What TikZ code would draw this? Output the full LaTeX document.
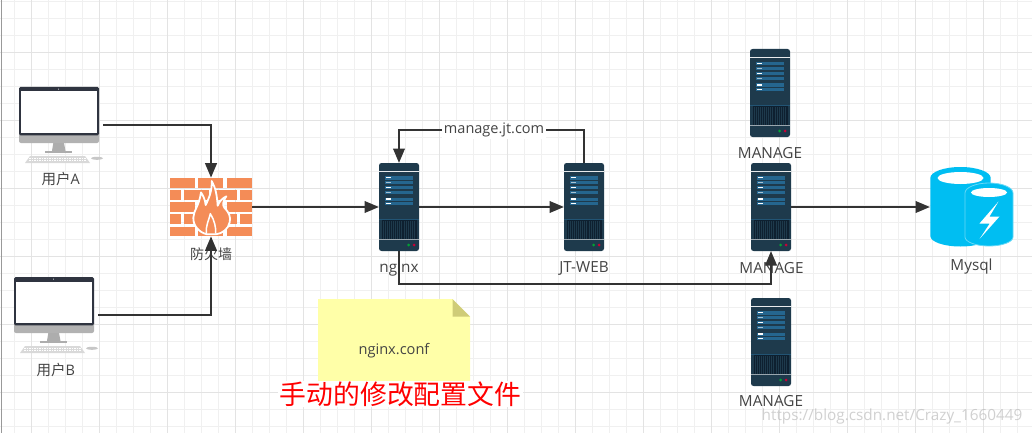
\documentclass[tikz,border=0pt]{standalone}
\usepackage{fontspec}
\setmainfont{Open Sans}
\newfontfamily\cjk{Noto Sans CJK SC}
\usetikzlibrary{arrows.meta,calc}
\definecolor{srv}{HTML}{1E3A4C}
\definecolor{srvbar}{HTML}{25668F}
\definecolor{srvdark}{HTML}{0E2030}
\definecolor{ink}{HTML}{333333}
\definecolor{txt}{HTML}{444444}
\definecolor{gridmin}{HTML}{F0F0F0}
\definecolor{gridmaj}{HTML}{E3E3E3}
\definecolor{brick}{HTML}{F48C57}
\definecolor{dbblue}{HTML}{00BEF2}
\definecolor{dbedge}{HTML}{66D8F6}
\definecolor{notey}{HTML}{FFFFA8}
\definecolor{notef}{HTML}{CFCC78}
\definecolor{frame}{HTML}{2F3440}
\tikzset{
  x=1pt,y=-1pt,
  conn/.style={draw=ink,line width=2.3pt,-{Triangle[length=14.5pt,width=11.5pt]}},
  iconbox/.style={inner sep=0pt,outer sep=0pt,draw=none},
  lbl/.style={inner sep=0pt,text=txt,font=\fontsize{15.3}{17}\selectfont},
  serverico/.pic={
    \fill[srv,rounded corners=2.5pt] (0,0) rectangle (40,88);
    \fill[white!90!srv] (0,7.6) rectangle (40,8.6);
    \foreach \a/\b in {13/16.5,18/21,23/26.3,28/31,34.5/38,39/42}{
      \fill[srvbar] (6,\a) rectangle (34,\b);}
    \foreach \a/\c in {14.7/white,19.4/white!60!srvbar,24.6/white,29.4/white!60!srvbar,36/white,40.5/white}{
      \fill[\c] (6.7,\a-.6) rectangle (12,\a+.6);}
    \fill[srvbar!60!srv] (0,55.6) rectangle (40,56.4);
    \fill[srvdark] (2.5,57) rectangle (37.5,76);
    \foreach \k in {3.5,5.6,...,37}{\fill[srv] (\k,58) rectangle (\k+.6,75.5);}
    \fill[white!55!srv] (0,75.8) rectangle (40,77.4);
    \fill[green!55!black!80!cyan] (29.6,82) circle (1.5);
    \fill[purple!85!red] (35,82) circle (1.5);
  },
  monitorico/.pic={
    \fill[black!15] (6,76) -- (11,69) -- (66,69) -- (71,76) -- cycle;
    \foreach \a in {71,73.5}{\draw[white,line width=.5pt,dash pattern=on 1.5pt off 1pt] (10,\a) -- (67,\a);}
    \fill[black!22] (78,71.3) ellipse (6 and 1.5);
    \fill[black!32] (34.3,56) -- (45,56) -- (46.5,64) -- (33,64) -- cycle;
    \fill[black!32] (26,64) rectangle (53,66);
    \fill[black!30,rounded corners=2pt] (0,44) rectangle (80,56);
    \fill[black!30] (0,44) rectangle (80,50);
    \fill[frame,rounded corners=1.5pt] (0,0) rectangle (80,48.4);
    \fill[white] (2.4,4.5) rectangle (77.6,46);
    \fill[white] (39.5,2.2) circle (.5);
  }
}
\begin{document}
\begin{tikzpicture}
\useasboundingbox (0,0) rectangle (1032,433);
\fill[white] (0,0) rectangle (1032,433);
% grid
\foreach \k in {0,...,60}{\draw[gridmin,line width=1pt] ({14.7+17*\k},0) -- ({14.7+17*\k},433);}
\foreach \k in {0,...,25}{\draw[gridmin,line width=1pt] (0,{1.3+17*\k}) -- (1032,{1.3+17*\k});}
\foreach \k in {0,...,14}{\draw[gridmaj,line width=1pt] ({31.7+68*\k},0) -- ({31.7+68*\k},433);}
\foreach \k in {0,...,6}{\draw[gridmaj,line width=1pt] (0,{52.3+68*\k}) -- (1032,{52.3+68*\k});}
\draw[black!40,line width=1.2pt] (1.2,0) -- (1.2,433);

% note
\fill[notey] (318,299) -- (452.5,299) -- (470,316.7) -- (470,398) -- (318,398) -- cycle;
\fill[notef] (452.5,299) -- (470,316.7) -- (452.5,316.7) -- cycle;
\node[lbl,font=\fontsize{14.6}{16}\selectfont] (noteText) at (394,350.5) {nginx.conf};
\node[fill=white,inner sep=0pt,minimum width=245pt,minimum height=26pt,text=red,font=\cjk\fontsize{26.8}{28}\selectfont] (redText) at (400.5,394) {手动的修改配置文件};

% monitors
\pic at (19,87) {monitorico};
\pic at (14,277) {monitorico};
\node[iconbox,minimum width=84pt,minimum height=76pt] (ua) at (61,125) {};
\node[iconbox,minimum width=84pt,minimum height=76pt] (ub) at (56,315) {};
\node[lbl,font=\fontsize{14.5}{16}\selectfont] (ula) at (60.8,179) {{\cjk 用户}A};
\node[lbl,font=\fontsize{14.5}{16}\selectfont] (ulb) at (55.8,370) {{\cjk 用户}B};

% firewall
\node[iconbox,minimum width=82pt,minimum height=58.6pt] (fw) at (211,207) {};
\foreach \a in {177.7,202.3,226.6}{
  \fill[brick] (170,\a) rectangle (195,\a+9.8);
  \fill[brick] (198.3,\a) rectangle (223.3,\a+9.8);
  \fill[brick] (226.7,\a) rectangle (252,\a+9.8);}
\foreach \a in {190.2,214.4}{
  \fill[brick] (170,\a) rectangle (181,\a+9.8);
  \fill[brick] (184,\a) rectangle (209,\a+9.8);
  \fill[brick] (212,\a) rectangle (237,\a+9.8);
  \fill[brick] (240,\a) rectangle (252,\a+9.8);}
\begin{scope}[shift={(185,175)},scale=1/3]
\filldraw[draw=white,fill=brick,line width=1.8pt,line join=round]
  (80,18) .. controls (92,38) and (96,62) .. (98,92)
  .. controls (104,78) and (112,70) .. (124,64)
  .. controls (114,78) and (112,90) .. (118,98)
  .. controls (132,112) and (138,126) .. (134,142)
  .. controls (130,162) and (112,176) .. (92,178)
  -- (66,178)
  .. controls (42,172) and (24,152) .. (25,128)
  .. controls (26,105) and (42,95) .. (48,52)
  .. controls (54,62) and (60,72) .. (62,90)
  .. controls (72,70) and (82,45) .. (80,18) -- cycle;
\draw[white,line width=1.5pt,line join=round] (64,176) .. controls (62,150) and (72,135) .. (76,116) .. controls (88,135) and (94,160) .. (92,176);
\end{scope}
\node[lbl,font=\cjk\fontsize{14}{16}\selectfont] (fwl) at (211,254) {防火墙};

% servers
\pic at (379,163) {serverico};
\pic at (564,163) {serverico};
\pic at (750,49) {serverico};
\pic at (751,163) {serverico};
\pic at (751,298) {serverico};
\node[iconbox,minimum width=40pt,minimum height=88pt] (nginx) at (399,207) {};
\node[iconbox,minimum width=40pt,minimum height=88pt] (jt) at (584,207) {};
\node[iconbox,minimum width=40pt,minimum height=88pt] (m1) at (770,93) {};
\node[iconbox,minimum width=40pt,minimum height=88pt] (m2) at (771,207) {};
\node[iconbox,minimum width=40pt,minimum height=88pt] (m3) at (771,342) {};
\node[lbl] (l1) at (399,268.5) {nginx};
\node[lbl] (l2) at (584,268.5) {JT-WEB};
\node[lbl] (l3) at (770,153.5) {MANAGE};
\node[lbl] (l4) at (771.5,268.5) {MANAGE};
\node[lbl] (l5) at (771,401) {MANAGE};

% database
\node[iconbox,minimum width=83pt,minimum height=80pt] (db) at (971.5,207) {};
\fill[dbblue] (930.3,178) arc[start angle=180,end angle=360,x radius=30.2,y radius=11] -- (990.7,236) arc[start angle=0,end angle=180,x radius=30.2,y radius=10.5] -- cycle;
\fill[white] (960.5,178) ellipse (23 and 6);
\filldraw[fill=dbblue,draw=dbedge,line width=.8pt] (965,193) arc[start angle=180,end angle=360,x radius=24,y radius=10] -- (1013,237) arc[start angle=0,end angle=180,x radius=24,y radius=9] -- cycle;
\fill[white] (989,192.5) ellipse (18 and 4.5);
\fill[white] (998.5,201.5) -- (979.5,223.5) -- (989.8,223.5) -- (979.5,239) -- (999.5,216.5) -- (989.5,216.5) -- cycle;
\node[lbl] (dbl) at (971.5,266.5) {Mysql};

% watermark
\node[inner sep=0pt,text=black!30,opacity=.6,font=\fontsize{15.3}{17}\selectfont] (wa) at (892,416.5) {https://blog.csdn.net/Crazy\_1660449};

% connectors
\draw[conn] (ua.east) -| (fw.north);
\draw[conn] (ub.east) -| (fw.south);
\draw[conn] (fw.east) -- (nginx.west);
\draw[conn] (nginx.east) -- (jt.west);
\draw[conn] (jt.north) -- ++(0,-33) -| (nginx.north) node[pos=.243,fill=white,inner sep=1.5pt,text=txt,font=\fontsize{14.5}{16}\selectfont] (mj) {manage.jt.com};
\draw[conn] (nginx.south) -- ++(0,32.7) -| (m2.south);
\draw[conn] (m2.east) -- (db.west);
\end{tikzpicture}
\end{document}
